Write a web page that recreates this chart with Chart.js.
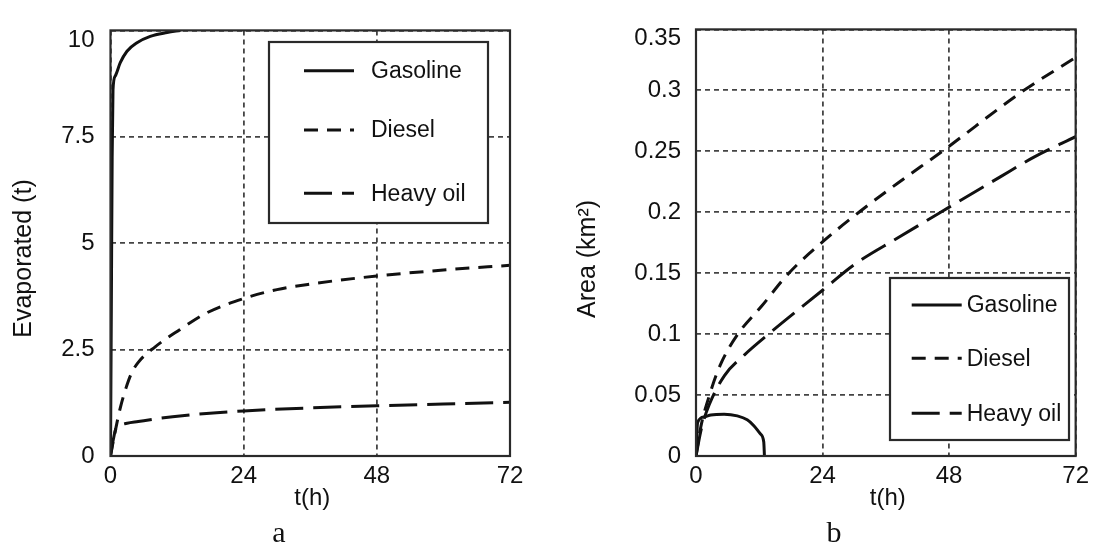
<!DOCTYPE html>
<html>
<head>
<meta charset="utf-8">
<script src="https://cdn.jsdelivr.net/npm/chart.js@4"></script>
<style>
  html, body { margin: 0; padding: 0; background: #fff; }
  #wrap { position: relative; width: 1095px; height: 543px; }
  canvas { position: absolute; top: 0; }
</style>
</head>
<body>
<div id="wrap">
  <canvas id="chartA" width="555" height="543" style="left:0"></canvas>
  <canvas id="chartB" width="540" height="543" style="left:555px"></canvas>
</div>
<script>
// Axis ticks
const timeTicks = [0, 24, 48, 72];
const evapTicks = [0, 2.5, 5, 7.5, 10];
const areaTicks = [0, 0.05, 0.1, 0.15, 0.2, 0.25, 0.3, 0.35];
const seriesNames = ["Gasoline", "Diesel", "Heavy oil"];

// Panel a: evaporated mass (t)
const gasTimeA = [0, 0.15, 0.3, 0.45, 0.86, 1.76, 2.97, 4.77, 7.16, 10.2, 12.6];
const gasEvapA = [0, 3.5, 7.0, 8.6, 8.93, 9.24, 9.51, 9.71, 9.86, 9.95, 10.0];
const dieselTimeA = [0, 0.8, 1.8, 2.8, 3.8, 5, 8, 12.4, 17.3, 24, 30, 36, 48, 60, 72];
const dieselEvapA = [0, 0.55, 1.15, 1.6, 1.95, 2.2, 2.56, 2.96, 3.36, 3.7, 3.91, 4.04, 4.23, 4.37, 4.48];
const heavyTimeA = [0, 0.5, 1.0, 1.6, 3, 5, 8, 11.2, 17.3, 24, 36, 48, 60, 72];
const heavyEvapA = [0, 0.38, 0.66, 0.72, 0.77, 0.81, 0.87, 0.92, 1.0, 1.06, 1.13, 1.18, 1.22, 1.26];

// Panel b: slick area (km2)
const gasTimeB = [0, 0.31, 1.57, 2.82, 5.33, 7.83, 9.71, 10.97, 12.2, 12.85, 12.98];
const gasAreaB = [0, 0.0275, 0.0321, 0.0337, 0.0343, 0.0329, 0.0297, 0.0249, 0.0182, 0.0115, 0];
const dieselTimeB = [0, 0.84, 2.78, 4.7, 7.94, 12.46, 17.6, 24.1, 30.9, 38.3, 46.7, 62.2, 72];
const dieselAreaB = [0, 0.0224, 0.053, 0.0756, 0.1, 0.123, 0.15, 0.176, 0.2, 0.224, 0.25, 0.3, 0.327];
const heavyTimeB = [0, 1, 2.5, 5.4, 9.2, 13.75, 24, 30, 38.3, 46.4, 57.7, 64, 72];
const heavyAreaB = [0, 0.022, 0.042, 0.066, 0.083, 0.1, 0.136, 0.157, 0.179, 0.2, 0.229, 0.245, 0.262];

const INK = "#111";
const GRID = "#444";
const SANS = "'Liberation Sans', Arial, sans-serif";
const SERIF = "'Liberation Serif', 'Times New Roman', serif";
const dashes = [[], [14, 9], [28, 10]];

function toPoints(xs, ys) {
  return xs.map((x, i) => ({ x: x, y: ys[i] }));
}

function makeDatasets(series) {
  return series.map((pts, i) => ({
    label: seriesNames[i],
    data: pts,
    borderColor: INK,
    borderWidth: 3,
    borderDash: dashes[i],
    borderCapStyle: "butt",
    pointRadius: 0,
    fill: false,
    cubicInterpolationMode: "monotone",
  }));
}

function fmt(v) {
  return String(+v.toFixed(3));
}

// Frame, legend box, titles and the lowered top tick label
const panelPlugin = {
  id: "panel",
  afterDraw(chart, args, opts) {
    const { ctx, chartArea: area } = chart;
    const yScale = chart.scales.y;
    ctx.save();

    ctx.fillStyle = INK;
    ctx.font = Chart.helpers.toFont({ family: SANS, size: 24 }).string;
    ctx.textAlign = "right";
    ctx.textBaseline = "middle";
    ctx.fillText(fmt(yScale.max), area.left - opts.tickPad, yScale.getPixelForValue(yScale.max) + opts.topShift);

    // axes box
    ctx.strokeStyle = "#2a2a2a";
    ctx.lineWidth = 2.2;
    ctx.strokeRect(area.left, area.top, area.right - area.left, area.bottom - area.top);

    // legend
    const lg = opts.legend;
    ctx.fillStyle = "#fff";
    ctx.fillRect(lg.x, lg.y, lg.w, lg.h);
    ctx.strokeRect(lg.x, lg.y, lg.w, lg.h);
    ctx.font = Chart.helpers.toFont({ family: SANS, size: 23 }).string;
    ctx.textAlign = "left";
    chart.data.datasets.forEach((ds, i) => {
      const y = lg.rows[i];
      ctx.strokeStyle = INK;
      ctx.lineWidth = ds.borderWidth;
      ctx.setLineDash(ds.borderDash);
      ctx.beginPath();
      ctx.moveTo(lg.lineFrom, y);
      ctx.lineTo(lg.lineTo, y);
      ctx.stroke();
      ctx.setLineDash([]);
      ctx.fillStyle = INK;
      ctx.fillText(ds.label, lg.textX, y + 1);
    });

    // axis titles
    ctx.fillStyle = INK;
    ctx.textAlign = "center";
    ctx.font = Chart.helpers.toFont({ family: SANS, size: 24 }).string;
    ctx.fillText("t(h)", (area.left + area.right) / 2 + 2, 498);

    ctx.save();
    ctx.translate(opts.yTitleX, opts.yTitleY);
    ctx.rotate(-Math.PI / 2);
    ctx.font = Chart.helpers.toFont({ family: SANS, size: 25 }).string;
    ctx.fillText(opts.yTitle, 0, 0);
    ctx.restore();

    // panel letter
    ctx.font = Chart.helpers.toFont({ family: SERIF, size: 30 }).string;
    ctx.textBaseline = "alphabetic";
    ctx.fillText(opts.letter, 279, 542);

    ctx.restore();
  },
};

function makeChart(id, series, yTicks, cfg) {
  const yMax = yTicks[yTicks.length - 1];
  return new Chart(document.getElementById(id), {
    type: "line",
    data: { datasets: makeDatasets(series) },
    plugins: [panelPlugin],
    options: {
      responsive: false,
      animation: false,
      layout: { padding: { left: 0, right: cfg.padRight, top: cfg.padTop, bottom: 0 } },
      plugins: {
        legend: { display: false },
        tooltip: { enabled: false },
        panel: cfg.panel,
      },
      scales: {
        x: {
          type: "linear",
          min: 0,
          max: 72,
          afterBuildTicks: (s) => { s.ticks = timeTicks.map((v) => ({ value: v })); },
          afterFit: (s) => { s.height = 87; },
          ticks: { color: INK, padding: 6, font: { family: SANS, size: 24 }, callback: (v) => fmt(v) },
          grid: { color: GRID, lineWidth: 1.8, drawTicks: false },
          border: { display: false, dash: [5, 4] },
        },
        y: {
          type: "linear",
          min: 0,
          max: yMax,
          afterBuildTicks: (s) => { s.ticks = yTicks.map((v) => ({ value: v })); },
          afterFit: (s) => { s.width = cfg.yWidth; },
          ticks: {
            color: INK,
            padding: cfg.panel.tickPad,
            font: { family: SANS, size: 24 },
            callback: (v) => (v === yMax ? "" : fmt(v)),
          },
          grid: { color: GRID, lineWidth: 1.8, drawTicks: false },
          border: { display: false, dash: [5, 4] },
        },
      },
    },
  });
}

makeChart("chartA",
  [toPoints(gasTimeA, gasEvapA), toPoints(dieselTimeA, dieselEvapA), toPoints(heavyTimeA, heavyEvapA)],
  evapTicks,
  {
    padRight: 45, padTop: 20.5, yWidth: 110.5,
    panel: {
      tickPad: 16, topShift: 10,
      yTitle: "Evaporated (t)", yTitleX: 24.5, yTitleY: 258.5, letter: "a",
      legend: { x: 269, y: 42, w: 219, h: 181, rows: [70.7, 130, 193.3], lineFrom: 304, lineTo: 354, textX: 371 },
    },
  });

makeChart("chartB",
  [toPoints(gasTimeB, gasAreaB), toPoints(dieselTimeB, dieselAreaB), toPoints(heavyTimeB, heavyAreaB)],
  areaTicks,
  {
    padRight: 16, padTop: 20, yWidth: 141,
    panel: {
      tickPad: 15, topShift: 9,
      yTitle: "Area (km\u00B2)", yTitleX: 33.5, yTitleY: 259, letter: "b",
      legend: { x: 335, y: 278, w: 179, h: 162, rows: [305, 358.3, 413.3], lineFrom: 356.7, lineTo: 406.7, textX: 411.7 },
    },
  });
</script>
</body>
</html>
